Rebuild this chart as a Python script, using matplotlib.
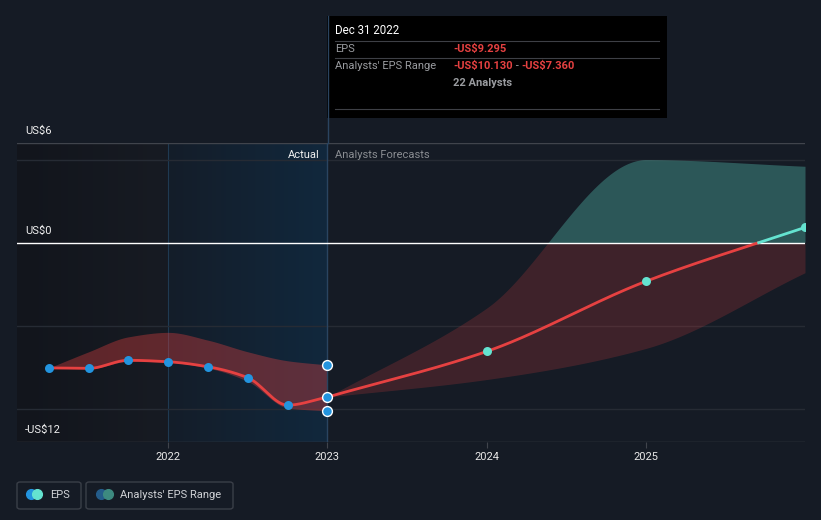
import numpy as np
import matplotlib
matplotlib.use("Agg")
import matplotlib.pyplot as plt
from matplotlib.patches import FancyBboxPatch, Rectangle

plt.rcParams['font.family'] = ['Roboto', 'DejaVu Sans']

# data (fractional years, US$)
past_x = [2021.25, 2021.5, 2021.75, 2022.0, 2022.25, 2022.5, 2022.75, 2023.0]
past_eps = [-7.54, -7.57, -7.08, -7.17, -7.47, -8.13, -9.78, -9.295]
past_hi = [-7.54, -6.57, -5.67, -5.40, -5.87, -6.57, -7.11, -7.36]
past_lo = [-7.54, -7.60, -7.15, -7.20, -7.55, -8.35, -9.95, -10.13]

fc_x = [2023.0, 2024.0, 2025.0, 2026.0]
fc_eps = [-9.295, -6.55, -2.33, 0.92]
fc_hi = [-9.295, -3.94, 5.0, 4.6]
fc_lo = [-9.295, -8.24, -6.37, -1.81]

yticks = [6, 0, -12]
ytick_labels = ["US$6", "US$0", "-US$12"]
years = [2022, 2023, 2024, 2025]

BG = "#151b25"
RED = "#e64141"
BLUE = "#2394df"
TEAL = "#64e3d0"
W, H = 821, 520


def monotone(xs, ys, n=300):
    xs = np.asarray(xs, float); ys = np.asarray(ys, float)
    h = np.diff(xs); d = np.diff(ys) / h
    m = np.zeros_like(ys)
    m[0] = d[0]; m[-1] = d[-1]
    for k in range(1, len(xs) - 1):
        if d[k-1] * d[k] <= 0:
            m[k] = 0
        else:
            h0, h1 = h[k-1], h[k]
            m[k] = 3 * (h0 + h1) / ((2*h1 + h0) / d[k-1] + (h1 + 2*h0) / d[k])
    xx = np.linspace(xs[0], xs[-1], n)
    idx = np.clip(np.searchsorted(xs, xx) - 1, 0, len(xs) - 2)
    t = (xx - xs[idx]) / h[idx]
    h00 = 2*t**3 - 3*t**2 + 1; h10 = t**3 - 2*t**2 + t
    h01 = -2*t**3 + 3*t**2; h11 = t**3 - t**2
    yy = h00*ys[idx] + h10*h[idx]*m[idx] + h01*ys[idx+1] + h11*h[idx]*m[idx+1]
    return xx, yy


def fx(px):
    return px / W


def fy(py):
    return 1 - py / H


fig = plt.figure(figsize=(8.21, 5.20), dpi=100)
fig.patch.set_facecolor(BG)
ax = fig.add_axes([fx(17), fy(442), fx(805) - fx(17), fy(143) - fy(442)])
ax.set_facecolor(BG)
ax.set_xlim(2021.05, 2026.0)
ax.set_ylim(-12, 6)
for s in ax.spines.values():
    s.set_visible(False)

# background shading for the actual period
g1 = np.linspace(0, 1, 200)
c_left = np.array([[0x12, 0x15, 0x1c]]) / 255 * (1 - g1[:, None]) + np.array([[0x17, 0x1b, 0x23]]) / 255 * g1[:, None]
ax.imshow(c_left[None, :, :], extent=[2021.05, 2022.0, -12, 6], aspect='auto', zorder=0)
c_blue = np.array([[0x14, 0x1d, 0x29]]) / 255 * (1 - g1[:, None]) + np.array([[0x11, 0x28, 0x3d]]) / 255 * g1[:, None]
ax.imshow(c_blue[None, :, :], extent=[2022.0, 2023.0, -12, 6], aspect='auto', zorder=0)
ax.axvline(2022.0, color="#1f3a52", lw=0.8, zorder=1)

# grid
for gy in [5, -5, -10]:
    ax.axhline(gy, color="#262b34", lw=1, zorder=1)
ax.axhline(6, color="#40444c", lw=1, zorder=1)
ax.axhline(-12, color="#40444c", lw=1, zorder=1)
ax.axhline(0, color="white", lw=1, zorder=4)

# past range band
bx, bh = monotone(past_x, past_hi)
_, bl = monotone(past_x, past_lo)
ax.fill_between(bx, bl, bh, color=RED, alpha=0.36, lw=0, zorder=2)

# forecast band
fxx, fh = monotone(fc_x, fc_hi)
_, fl = monotone(fc_x, fc_lo)
ax.fill_between(fxx, np.minimum(fl, 0), np.minimum(fh, 0), color=RED, alpha=0.2, lw=0, zorder=2)
ax.fill_between(fxx, np.maximum(fl, 0), np.maximum(fh, 0), color=TEAL, alpha=0.3, lw=0, zorder=2)

# EPS line
ex, ey = monotone(past_x, past_eps)
ax.plot(ex, ey, color=RED, lw=2, zorder=5, solid_capstyle='round')
gx, gy_ = monotone(fc_x, fc_eps)
ax.plot(gx, np.where(gy_ <= 0.02, gy_, np.nan), color=RED, lw=2, zorder=5)
ax.plot(gx, np.where(gy_ >= -0.02, gy_, np.nan), color=TEAL, lw=2, zorder=5)

ax.scatter(past_x[:-1], past_eps[:-1], s=42, color=BLUE, zorder=6, lw=0)
ax.scatter([2023.0] * 3, [past_eps[-1], past_hi[-1], past_lo[-1]], s=50, color=BLUE,
           edgecolor="white", lw=1, zorder=6)
ax.scatter(fc_x[1:], fc_eps[1:], s=42, color=TEAL, zorder=6, lw=0, clip_on=True)

# hover line
ax.axvline(2023.0, color="#2a4460", lw=1, zorder=3)
fig.add_artist(plt.Line2D([fx(327.5), fx(327.5)], [fy(16), fy(143)], color="#2a4460", lw=1))

# ticks
ax.set_yticks([])
ax.set_xticks(years)
ax.set_xticklabels([str(y) for y in years], color="#e8e8e8", fontsize=8)
ax.tick_params(axis='x', length=4, color="#40444c", pad=3)
for v, lab in zip(yticks, ytick_labels):
    ax.text(2021.1, v + 0.4, lab, color="#f0f0f0", fontsize=8, va='bottom', ha='left', zorder=7)

ax.text(2022.95, 5.25, "Actual", color="#f0f0f0", fontsize=8, ha='right', va='center', zorder=7)
ax.text(2023.05, 5.25, "Analysts Forecasts", color="#8a8d92", fontsize=8, ha='left', va='center', zorder=7)

# tooltip
fig.add_artist(Rectangle((fx(327), fy(118)), fx(667) - fx(327), fy(16) - fy(118), color="black", lw=0))
for ly in [41, 58, 109]:
    fig.add_artist(plt.Line2D([fx(335), fx(659)], [fy(ly), fy(ly)], color="#3e4046", lw=0.8))
fig.text(fx(335), fy(31), "Dec 31 2022", color="white", fontsize=8.3, va='center')
fig.text(fx(335), fy(48.5), "EPS", color="#9a9ca0", fontsize=8, va='center')
fig.text(fx(453), fy(48.5), "-US$9.295", color=RED, fontsize=8, va='center', fontweight='bold')
fig.text(fx(335), fy(66), "Analysts' EPS Range", color="#9a9ca0", fontsize=8, va='center')

# range text pieces placed one after another
renderer = fig.canvas.get_renderer()
xpos = 453
for txt, col, wt in [("-US$10.130", RED, 'bold'), (" - ", "#9a9ca0", 'normal'), ("-US$7.360", RED, 'bold')]:
    t = fig.text(fx(xpos), fy(66), txt, color=col, fontsize=8, va='center', fontweight=wt)
    xpos += t.get_window_extent(renderer).width
fig.text(fx(453), fy(83), "22 Analysts", color="#9a9ca0", fontsize=8, va='center', fontweight='bold')

# legend
for x0, x1 in [(17, 81), (86, 233)]:
    fig.add_artist(FancyBboxPatch((fx(x0), fy(509)), fx(x1) - fx(x0), fy(482) - fy(509),
                                  boxstyle="round,pad=0,rounding_size=0.004",
                                  facecolor="none", edgecolor="#3a3f48", lw=1))
fig.add_artist(plt.Line2D([fx(31)], [fy(494)], marker='o', ms=7, color=BLUE, lw=0))
fig.add_artist(plt.Line2D([fx(37)], [fy(494)], marker='o', ms=7, color=TEAL, lw=0))
fig.text(fx(50), fy(494.5), "EPS", color="#d0d2d6", fontsize=8, va='center')
fig.add_artist(plt.Line2D([fx(101)], [fy(494)], marker='o', ms=7, color="#245c8a", lw=0))
fig.add_artist(plt.Line2D([fx(108)], [fy(494)], marker='o', ms=7, color="#3d8a80", lw=0))
fig.text(fx(120), fy(494.5), "Analysts' EPS Range", color="#d0d2d6", fontsize=8, va='center')

fig.savefig("out.png", dpi=100, facecolor=BG)
